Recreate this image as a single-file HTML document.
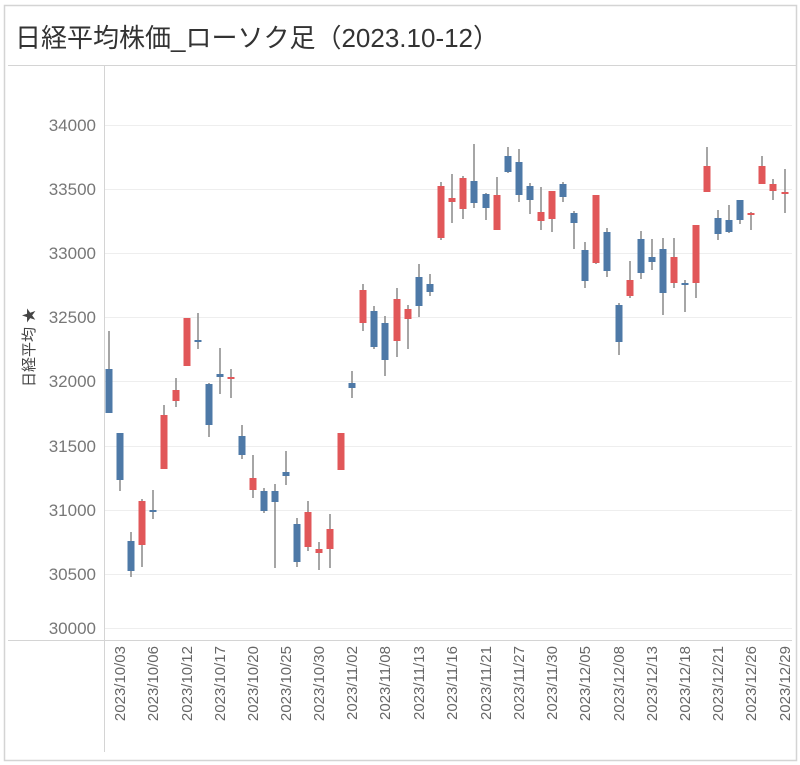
<!DOCTYPE html>
<html><head><meta charset="utf-8"><style>
html,body{margin:0;padding:0;background:#fff;}
svg{display:block;font-family:"Liberation Sans","Noto Sans CJK JP",sans-serif;}
</style></head><body>
<svg width="800" height="765" viewBox="0 0 800 765" xmlns="http://www.w3.org/2000/svg">
<rect x="4.5" y="5.5" width="792" height="755" fill="#fff" stroke="#d4d4d4" stroke-width="1.5"/>
<text x="15" y="47" font-size="26" fill="#333">日経平均株価_ローソク足（2023.10-12）</text>
<line x1="8" y1="65.5" x2="796" y2="65.5" stroke="#d4d4d4"/>
<g stroke="#eeeeee" stroke-width="1">
<line x1="104" y1="125.5" x2="792" y2="125.5"/>
<line x1="104" y1="189.5" x2="792" y2="189.5"/>
<line x1="104" y1="253.5" x2="792" y2="253.5"/>
<line x1="104" y1="317.5" x2="792" y2="317.5"/>
<line x1="104" y1="381.5" x2="792" y2="381.5"/>
<line x1="104" y1="446.5" x2="792" y2="446.5"/>
<line x1="104" y1="510.5" x2="792" y2="510.5"/>
<line x1="104" y1="574.5" x2="792" y2="574.5"/>
<line x1="104" y1="628.5" x2="792" y2="628.5"/>
</g>
<line x1="104.5" y1="66" x2="104.5" y2="752" stroke="#d4d4d4"/>
<line x1="8" y1="640.5" x2="792" y2="640.5" stroke="#d4d4d4"/>
<g font-size="17" fill="#777" text-anchor="end">
<text x="96" y="131">34000</text>
<text x="96" y="195">33500</text>
<text x="96" y="259">33000</text>
<text x="96" y="323">32500</text>
<text x="96" y="387">32000</text>
<text x="96" y="452">31500</text>
<text x="96" y="516">31000</text>
<text x="96" y="580">30500</text>
<text x="96" y="634">30000</text>
</g>
<text transform="translate(34,387) rotate(-90)" font-size="15" fill="#444">日経平均 ★</text>
<g stroke="#888" stroke-width="1.5">
<line x1="109" x2="109" y1="331" y2="413"/><line x1="120" x2="120" y1="433" y2="491"/><line x1="131" x2="131" y1="532" y2="577"/><line x1="142" x2="142" y1="499" y2="567"/><line x1="153" x2="153" y1="490" y2="519"/>
<line x1="164" x2="164" y1="405" y2="469"/><line x1="176" x2="176" y1="378" y2="407"/><line x1="187" x2="187" y1="318" y2="366"/><line x1="198" x2="198" y1="313" y2="349"/><line x1="209" x2="209" y1="383" y2="437"/>
<line x1="220" x2="220" y1="348" y2="394"/><line x1="231" x2="231" y1="369" y2="398"/><line x1="242" x2="242" y1="425" y2="459"/><line x1="253" x2="253" y1="455" y2="498"/><line x1="264" x2="264" y1="488" y2="513"/>
<line x1="275" x2="275" y1="484" y2="568"/><line x1="286" x2="286" y1="451" y2="485"/><line x1="297" x2="297" y1="518" y2="567"/><line x1="308" x2="308" y1="501" y2="551"/><line x1="319" x2="319" y1="542" y2="570"/>
<line x1="330" x2="330" y1="514" y2="568"/><line x1="341" x2="341" y1="433" y2="470"/><line x1="352" x2="352" y1="371" y2="398"/><line x1="363" x2="363" y1="284" y2="331"/><line x1="374" x2="374" y1="306" y2="349"/>
<line x1="385" x2="385" y1="316" y2="376"/><line x1="397" x2="397" y1="288" y2="357"/><line x1="408" x2="408" y1="305" y2="349"/><line x1="419" x2="419" y1="264" y2="317"/><line x1="430" x2="430" y1="274" y2="296"/>
<line x1="441" x2="441" y1="182" y2="240"/><line x1="452" x2="452" y1="174" y2="223"/><line x1="463" x2="463" y1="176" y2="219"/><line x1="474" x2="474" y1="144" y2="208"/><line x1="486" x2="486" y1="193" y2="220"/>
<line x1="497" x2="497" y1="177" y2="230"/><line x1="508" x2="508" y1="147" y2="173"/><line x1="519" x2="519" y1="149" y2="202"/><line x1="530" x2="530" y1="183" y2="214"/><line x1="541" x2="541" y1="187" y2="230"/>
<line x1="552" x2="552" y1="191" y2="232"/><line x1="563" x2="563" y1="182" y2="202"/><line x1="574" x2="574" y1="211" y2="249"/><line x1="585" x2="585" y1="242" y2="288"/><line x1="596" x2="596" y1="195" y2="264"/>
<line x1="607" x2="607" y1="228" y2="277"/><line x1="619" x2="619" y1="303" y2="355"/><line x1="630" x2="630" y1="261" y2="298"/><line x1="641" x2="641" y1="231" y2="279"/><line x1="652" x2="652" y1="239" y2="270"/>
<line x1="663" x2="663" y1="238" y2="315"/><line x1="674" x2="674" y1="238" y2="288"/><line x1="685" x2="685" y1="280" y2="312"/><line x1="696" x2="696" y1="225" y2="298"/><line x1="707" x2="707" y1="147" y2="192"/>
<line x1="718" x2="718" y1="210" y2="240"/><line x1="729" x2="729" y1="205" y2="233"/><line x1="740" x2="740" y1="200" y2="224"/><line x1="751" x2="751" y1="212" y2="230"/><line x1="762" x2="762" y1="156" y2="184"/>
<line x1="773" x2="773" y1="179" y2="200"/><line x1="785" x2="785" y1="169" y2="213"/>
</g>
<g fill="#4e79a7">
<rect x="105.5" y="369" width="7" height="44"/><rect x="116.5" y="433" width="7" height="47"/><rect x="127.5" y="541" width="7" height="30"/><rect x="149.5" y="510" width="7" height="2"/>
<rect x="194.5" y="340" width="7" height="2"/><rect x="205.5" y="384" width="7" height="41"/><rect x="216.5" y="374" width="7" height="3"/><rect x="238.5" y="436" width="7" height="19"/>
<rect x="260.5" y="491" width="7" height="20"/><rect x="271.5" y="491" width="7" height="11"/><rect x="282.5" y="472" width="7" height="4"/><rect x="293.5" y="524" width="7" height="38"/>
<rect x="348.5" y="383" width="7" height="5"/><rect x="370.5" y="311" width="7" height="36"/><rect x="381.5" y="323" width="7" height="37"/><rect x="415.5" y="277" width="7" height="29"/><rect x="426.5" y="284" width="7" height="8"/>
<rect x="470.5" y="181" width="7" height="22"/><rect x="482.5" y="194" width="7" height="14"/><rect x="504.5" y="156" width="7" height="16"/><rect x="515.5" y="162" width="7" height="33"/><rect x="526.5" y="186" width="7" height="14"/>
<rect x="559.5" y="184" width="7" height="13"/><rect x="570.5" y="213" width="7" height="10"/><rect x="581.5" y="250" width="7" height="31"/><rect x="603.5" y="232" width="7" height="39"/><rect x="615.5" y="305" width="7" height="37"/>
<rect x="637.5" y="239" width="7" height="34"/><rect x="648.5" y="257" width="7" height="5"/><rect x="659.5" y="249" width="7" height="44"/><rect x="681.5" y="283" width="7" height="2"/>
<rect x="714.5" y="218" width="7" height="16"/><rect x="725.5" y="220" width="7" height="12"/><rect x="736.5" y="200" width="7" height="20"/>
</g>
<g fill="#e15759">
<rect x="138.5" y="501" width="7" height="44"/><rect x="160.5" y="415" width="7" height="54"/><rect x="172.5" y="390" width="7" height="11"/><rect x="183.5" y="318" width="7" height="48"/><rect x="227.5" y="377" width="7" height="2"/>
<rect x="249.5" y="478" width="7" height="12"/><rect x="304.5" y="512" width="7" height="35"/><rect x="315.5" y="549" width="7" height="4"/><rect x="326.5" y="529" width="7" height="20"/><rect x="337.5" y="433" width="7" height="37"/>
<rect x="359.5" y="290" width="7" height="33"/><rect x="393.5" y="299" width="7" height="42"/><rect x="404.5" y="309" width="7" height="10"/><rect x="437.5" y="186" width="7" height="52"/><rect x="448.5" y="198" width="7" height="4"/>
<rect x="459.5" y="178" width="7" height="31"/><rect x="493.5" y="195" width="7" height="35"/><rect x="537.5" y="212" width="7" height="9"/><rect x="548.5" y="191" width="7" height="28"/><rect x="592.5" y="195" width="7" height="68"/>
<rect x="626.5" y="280" width="7" height="16"/><rect x="670.5" y="257" width="7" height="26"/><rect x="692.5" y="225" width="7" height="58"/><rect x="703.5" y="166" width="7" height="26"/><rect x="747.5" y="213" width="7" height="2"/>
<rect x="758.5" y="166" width="7" height="18"/><rect x="769.5" y="184" width="7" height="7"/><rect x="781.5" y="192" width="7" height="2"/>
</g>
<g font-size="15" fill="#666" text-anchor="end">
<text transform="translate(125,646) rotate(-90)">2023/10/03</text>
<text transform="translate(158,646) rotate(-90)">2023/10/06</text>
<text transform="translate(192,646) rotate(-90)">2023/10/12</text>
<text transform="translate(225,646) rotate(-90)">2023/10/17</text>
<text transform="translate(258,646) rotate(-90)">2023/10/20</text>
<text transform="translate(291,646) rotate(-90)">2023/10/25</text>
<text transform="translate(324,646) rotate(-90)">2023/10/30</text>
<text transform="translate(357,646) rotate(-90)">2023/11/02</text>
<text transform="translate(390,646) rotate(-90)">2023/11/08</text>
<text transform="translate(424,646) rotate(-90)">2023/11/13</text>
<text transform="translate(457,646) rotate(-90)">2023/11/16</text>
<text transform="translate(491,646) rotate(-90)">2023/11/21</text>
<text transform="translate(524,646) rotate(-90)">2023/11/27</text>
<text transform="translate(557,646) rotate(-90)">2023/11/30</text>
<text transform="translate(590,646) rotate(-90)">2023/12/05</text>
<text transform="translate(624,646) rotate(-90)">2023/12/08</text>
<text transform="translate(657,646) rotate(-90)">2023/12/13</text>
<text transform="translate(690,646) rotate(-90)">2023/12/18</text>
<text transform="translate(723,646) rotate(-90)">2023/12/21</text>
<text transform="translate(756,646) rotate(-90)">2023/12/26</text>
<text transform="translate(790,646) rotate(-90)">2023/12/29</text>
</g>
</svg>
</body></html>
